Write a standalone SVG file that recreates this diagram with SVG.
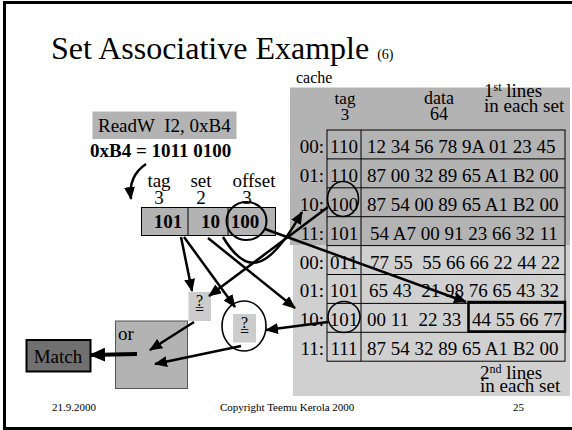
<svg xmlns="http://www.w3.org/2000/svg" width="572" height="430" viewBox="0 0 572 430">
  <style>
    text { font-family: "Liberation Serif", "Times New Roman", serif; fill: #000; }
    .t19 { font-size: 19px; }
    .b19 { font-size: 19px; font-weight: bold; }
    .foot { font-size: 11px; }
    .mid { text-anchor: middle; }
    .end { text-anchor: end; }
    .cell { fill: none; stroke: #000; stroke-width: 1; }
    .wire { fill: none; stroke: #000; stroke-width: 2.5; }
    .ring { fill: none; stroke: #000; stroke-width: 1.6; }
  </style>
  <defs>
    <marker id="ah" markerUnits="userSpaceOnUse" markerWidth="13" markerHeight="11" refX="12" refY="5.5" orient="auto">
      <path d="M0,0 L13,5.5 L0,11 z" fill="#000"/>
    </marker>
    <marker id="ahBig" markerUnits="userSpaceOnUse" markerWidth="16" markerHeight="14" refX="15" refY="7" orient="auto">
      <path d="M0,0 L16,7 L0,14 z" fill="#000"/>
    </marker>
  </defs>

  <!-- slide frame -->
  <rect x="4.5" y="2.5" width="590" height="426" fill="#fff" stroke="#000" stroke-width="3"/>

  <!-- title -->
  <text x="51" y="59" style="font-size:32px">Set Associative Example <tspan style="font-size:14px">(6)</tspan></text>

  <!-- cache -->
  <g id="cache">
    <text x="296" y="83" style="font-size:16px">cache</text>
    <rect x="290" y="87.5" width="280" height="157.5" fill="#b3b3b3"/>
    <rect x="293" y="245" width="277" height="151" fill="#d0d0d0"/>
    <text x="345" y="104" class="mid" style="font-size:17px">tag</text>
    <text x="345" y="120" class="mid" style="font-size:17px">3</text>
    <text x="439" y="104" class="mid" style="font-size:18px">data</text>
    <text x="439" y="120" class="mid" style="font-size:18px">64</text>
    <text x="484" y="97" class="t19">1<tspan style="font-size:12px" dy="-6">st</tspan><tspan dy="6"> lines</tspan><tspan x="484" y="112">in each set</tspan></text>
    <text x="480" y="379" class="t19">2<tspan style="font-size:12px" dy="-6">nd</tspan><tspan dy="6"> lines</tspan><tspan x="480" y="392">in each set</tspan></text>

    <!-- table grid -->
    <rect x="327" y="130" width="238" height="231.2" class="cell"/>
    <line x1="361" y1="130" x2="361" y2="361.2" class="cell"/>
    <line x1="327" y1="158.9" x2="565" y2="158.9" class="cell"/>
    <line x1="327" y1="187.8" x2="565" y2="187.8" class="cell"/>
    <line x1="327" y1="216.7" x2="565" y2="216.7" class="cell"/>
    <line x1="327" y1="245.6" x2="565" y2="245.6" class="cell"/>
    <line x1="327" y1="274.5" x2="565" y2="274.5" class="cell"/>
    <line x1="327" y1="303.4" x2="565" y2="303.4" class="cell"/>
    <line x1="327" y1="332.3" x2="565" y2="332.3" class="cell"/>

    <!-- set indexes -->
    <g class="t19 end">
      <text x="324" y="153">00:</text>
      <text x="324" y="182">01:</text>
      <text x="324" y="211">10:</text>
      <text x="324" y="240">11:</text>
      <text x="324" y="269">00:</text>
      <text x="324" y="297">01:</text>
      <text x="324" y="326">10:</text>
      <text x="324" y="355">11:</text>
    </g>
    <!-- tags -->
    <g class="t19 mid">
      <text x="344" y="153">110</text>
      <text x="344" y="182">110</text>
      <text x="344" y="211">100</text>
      <text x="344" y="240">101</text>
      <text x="344" y="269">011</text>
      <text x="344" y="297">101</text>
      <text x="344" y="326">101</text>
      <text x="344" y="355">111</text>
    </g>
    <!-- data words -->
    <g class="t19">
      <text x="367" y="153">12 34 56 78 9A 01 23 45</text>
      <text x="367" y="182">87 00 32 89 65 A1 B2 00</text>
      <text x="367" y="211">87 54 00 89 65 A1 B2 00</text>
      <text x="370" y="240">54 A7 00 91 23 66 32 11</text>
      <text x="370" y="269" xml:space="preserve">77 55  55 66 66 22 44 22</text>
      <text x="369" y="297" xml:space="preserve">65 43  21 98 76 65 43 32</text>
      <text x="367" y="326" xml:space="preserve">00 11  22 33</text>
      <text x="472" y="326">44 55 66 77</text>
      <text x="367" y="355">87 54 32 89 65 A1 B2 00</text>
    </g>
    <!-- selected word -->
    <rect x="468.5" y="302" width="96.5" height="29.5" fill="none" stroke="#000" stroke-width="2.5"/>
    <!-- tags being compared -->
    <ellipse cx="343" cy="199" rx="15.5" ry="17.5" class="ring"/>
    <ellipse cx="344" cy="317" rx="16" ry="15.5" class="ring"/>
  </g>

  <!-- instruction -->
  <g id="instr">
    <rect x="92.5" y="111.5" width="144" height="27.5" fill="#b3b3b3"/>
    <text x="98" y="131.5" class="t19" xml:space="preserve">ReadW  I2, 0xB4</text>
  </g>
  <text x="90" y="157" class="b19">0xB4 = 1011 0100</text>

  <!-- address fields -->
  <g id="address">
    <text x="159" y="187" class="t19 mid">tag</text>
    <text x="159" y="204" class="t19 mid">3</text>
    <text x="201" y="187" class="t19 mid">set</text>
    <text x="201" y="204" class="t19 mid">2</text>
    <text x="254" y="187" class="t19 mid">offset</text>
    <text x="247" y="204" class="t19 mid">3</text>
    <rect x="141.5" y="207.5" width="134" height="28" fill="#b3b3b3" stroke="#000" stroke-width="1"/>
    <line x1="188" y1="207.5" x2="188" y2="235.5" stroke="#000" stroke-width="1"/>
    <line x1="228" y1="207.5" x2="228" y2="235.5" stroke="#000" stroke-width="1"/>
    <text x="168" y="228" class="b19 mid">101</text>
    <text x="220" y="228" class="b19 end">10</text>
    <text x="245" y="228" class="b19 mid">100</text>
    <ellipse cx="246.5" cy="221" rx="20" ry="19" fill="none" stroke="#000" stroke-width="2"/>
  </g>

  <!-- comparators -->
  <g id="cmp1">
    <rect x="188.5" y="292" width="22.5" height="29" fill="#cccccc"/>
    <text x="199.5" y="306" class="mid" style="font-size:16px">?<tspan x="199.5" y="315">=</tspan></text>
  </g>
  <g id="cmp2">
    <rect x="233" y="314" width="23" height="28.5" fill="#cccccc"/>
    <text x="244.5" y="328" class="mid" style="font-size:16px">?<tspan x="244.5" y="337">=</tspan></text>
    <ellipse cx="244" cy="326" rx="22" ry="25" class="ring"/>
  </g>

  <!-- or gate -->
  <g id="or">
    <rect x="115.5" y="321" width="72" height="67.5" fill="#b3b3b3" stroke="#555" stroke-width="1"/>
    <text x="118" y="340" class="t19">or</text>
  </g>

  <!-- result -->
  <g id="match">
    <rect x="26.5" y="340" width="64" height="31.5" fill="#707070" stroke="#000" stroke-width="2"/>
    <text x="58" y="363" class="t19 mid">Match</text>
  </g>

  <!-- connectors -->
  <g id="connectors">
    <path d="M146,164 Q128,176 131,199" class="wire" marker-end="url(#ah)"/>
    <line x1="181" y1="237" x2="192" y2="291" class="wire" marker-end="url(#ah)"/>
    <line x1="184" y1="237" x2="235" y2="307" class="wire" marker-end="url(#ah)"/>
    <line x1="208" y1="238" x2="295" y2="308" class="wire" marker-end="url(#ah)"/>
    <path d="M223,237 C245,274 266,276 302,212" class="wire" marker-end="url(#ah)"/>
    <line x1="328" y1="207" x2="209" y2="296" class="wire" marker-end="url(#ah)"/>
    <line x1="265" y1="229" x2="466" y2="302" class="wire" marker-end="url(#ah)"/>
    <line x1="328" y1="322" x2="266" y2="330" class="wire" marker-end="url(#ah)"/>
    <line x1="194" y1="322" x2="150" y2="350" class="wire" marker-end="url(#ah)"/>
    <line x1="241" y1="346" x2="155" y2="364" class="wire" marker-end="url(#ah)"/>
    <line x1="137" y1="354" x2="90" y2="355" stroke="#000" stroke-width="4" marker-end="url(#ahBig)"/>
  </g>

  <!-- footer -->
  <text x="52" y="411" class="foot">21.9.2000</text>
  <text x="220" y="411" class="foot">Copyright Teemu Kerola 2000</text>
  <text x="513" y="411" class="foot">25</text>
</svg>
